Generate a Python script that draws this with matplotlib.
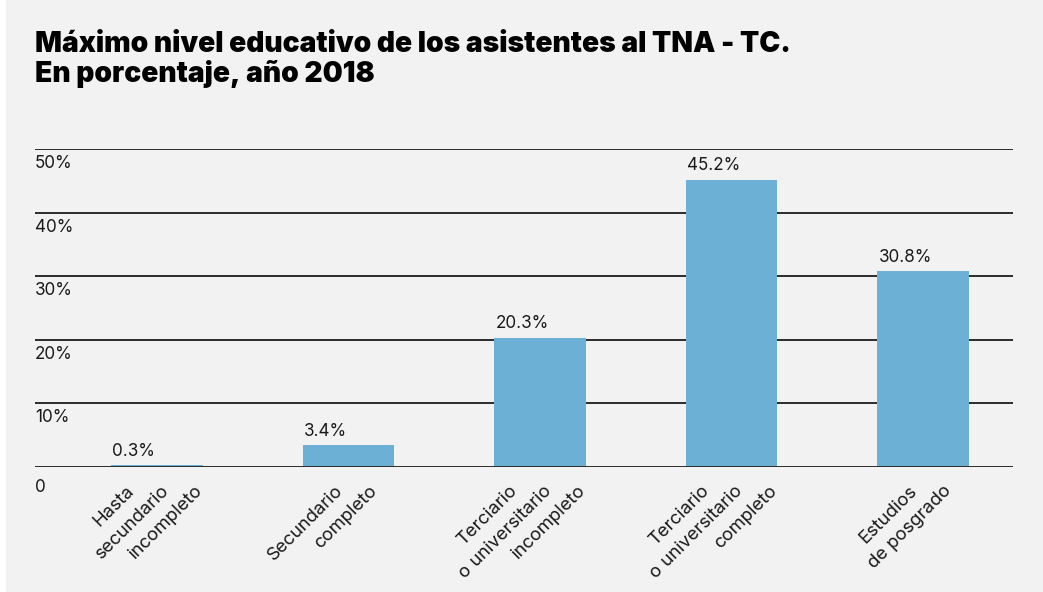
import matplotlib
matplotlib.use("Agg")
import matplotlib.pyplot as plt
from matplotlib import patches, transforms

categorias = ["Hasta\nsecundario\nincompleto", "Secundario\ncompleto",
              "Terciario\no universitario\nincompleto", "Terciario\no universitario\ncompleto",
              "Estudios\nde posgrado"]
porcentajes = [0.3, 3.4, 20.3, 45.2, 30.8]
ticks_y = [0, 10, 20, 30, 40, 50]
etiquetas_y = ["0", "10%", "20%", "30%", "40%", "50%"]

W, H = 1043, 592
fig = plt.figure(figsize=(W / 100, H / 100), dpi=100, facecolor="white")
fig.patches.append(patches.Rectangle((6 / W, 0), 1, 1, transform=fig.transFigure,
                                     facecolor="#f2f2f2", edgecolor="none", zorder=-5))

ax = fig.add_axes([35 / W, 1 - 467 / H, (1013 - 35) / W, (467 - 149) / H])
ax.set_facecolor("none")

x = range(len(porcentajes))
ancho = 0.48
ax.bar(x, porcentajes, ancho, color="#6db0d5", zorder=2)

for yv in ticks_y:
    ax.axhline(yv, color="#2b2b2b", linewidth=1.4, zorder=1 if yv else 3)

ax.set_xlim(-0.637, 4.47)
ax.set_ylim(0, 50)
for s in ax.spines.values():
    s.set_visible(False)
ax.set_yticks([])
ax.set_xticks(list(x))
ax.set_xticklabels([])
ax.tick_params(axis="x", length=0)

fuente = "Inter"
# y labels under each line
trans_y = transforms.blended_transform_factory(ax.transAxes, ax.transData)
for yv, et in zip(ticks_y, etiquetas_y):
    off = transforms.ScaledTranslation(0, (-12 if yv == 0 else -6) / 100, fig.dpi_scale_trans)
    ax.text(0, yv, et, transform=trans_y + off, ha="left", va="top",
            fontsize=12.3, family=fuente, color="#1a1a1a")

# value labels
for i, v in enumerate(porcentajes):
    ax.annotate(f"{v}%", (i - ancho / 2, v), xytext=(1, 4), textcoords="offset points",
                ha="left", va="bottom", fontsize=12.3, family=fuente, color="#1a1a1a")

# category labels, one line at a time
for i, c in enumerate(categorias):
    lineas = c.split("\n")
    n = len(lineas)
    for k, lin in enumerate(lineas):
        dx = 9 + (k - (n - 1) / 2) * 34
        ax.annotate(lin, (i, 0), xytext=(dx, -21), textcoords="offset pixels",
                    ha="right", va="center", rotation=45, rotation_mode="anchor",
                    fontsize=13.3, family=fuente, color="#1a1a1a")

fig.text(35 / W, 1 - 31 / H, "Máximo nivel educativo de los asistentes al TNA - TC.\nEn porcentaje, año 2018",
         ha="left", va="top", fontsize=20.3, fontweight="black", family=fuente,
         color="black", linespacing=1.1)

fig.savefig("out.png", dpi=100, facecolor=fig.get_facecolor())
